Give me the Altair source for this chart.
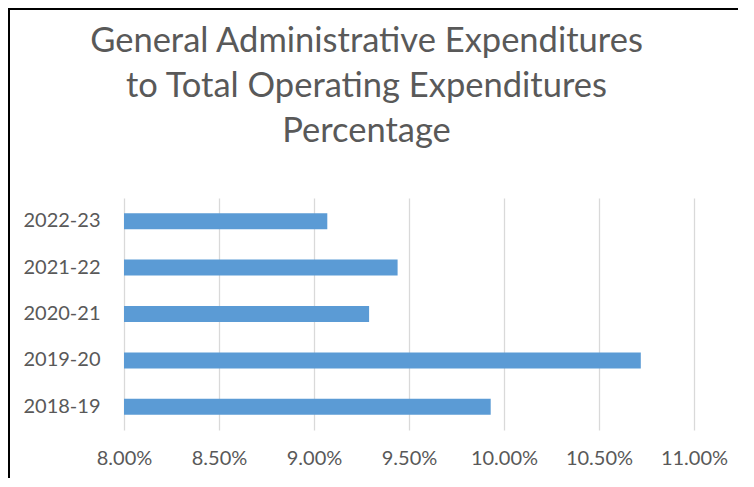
import altair as alt
import pandas as pd

years = ["2022-23", "2021-22", "2020-21", "2019-20", "2018-19"]
values = [0.0907, 0.0944, 0.0929, 0.1072, 0.0993]
x_ticks = [0.08, 0.085, 0.09, 0.095, 0.10, 0.105, 0.11]
title_lines = ["General Administrative Expenditures",
               "to Total Operating Expenditures",
               "Percentage"]

df = pd.DataFrame({"year": years, "value": values})
one = pd.DataFrame({"k": [0]})

FONT = "Lato"
GREY = "#595959"
W, H = 570, 232

bars = alt.Chart(df).mark_bar(size=16, color="#5B9BD5").encode(
    y=alt.Y("year:N", sort=years, title=None,
            scale=alt.Scale(paddingInner=0, paddingOuter=0),
            axis=alt.Axis(domain=False, ticks=False, grid=False,
                          labelFont=FONT, labelFontSize=20, labelColor=GREY,
                          labelPadding=24)),
    x=alt.X("value:Q", title=None,
            scale=alt.Scale(domain=[0.08, 0.11], zero=False, nice=False),
            axis=alt.Axis(values=x_ticks, format=".2%", domain=False, ticks=False,
                          grid=True, gridColor="#D9D9D9", gridWidth=1.3,
                          labelOverlap=False, labelFlush=False,
                          labelFont=FONT, labelFontSize=20, labelColor=GREY,
                          labelPadding=18)),
    x2=alt.datum(0.08),
)

title = alt.Chart(one).mark_text(
    text=title_lines, font=FONT, fontSize=34.5, color=GREY, lineHeight=45,
    align="center", baseline="alphabetic",
).encode(x=alt.value(242.5), y=alt.value(-146))

frame_top = alt.Chart(one).mark_rule(color="black", strokeWidth=2).encode(
    x=alt.value(-130), x2=alt.value(W + 100), y=alt.value(-189)
)
frame_left = alt.Chart(one).mark_rule(color="black", strokeWidth=2).encode(
    x=alt.value(-115), y=alt.value(-200), y2=alt.value(H + 100)
)

chart = alt.layer(bars, title, frame_top, frame_left).properties(
    width=W, height=H,
    padding={"left": 116, "top": 190, "right": 44, "bottom": 48},
    autosize=alt.AutoSizeParams(type="none"),
    background="white",
).configure_view(stroke=None)

chart.save("out.html", embed_options={"renderer": "svg", "actions": False})
